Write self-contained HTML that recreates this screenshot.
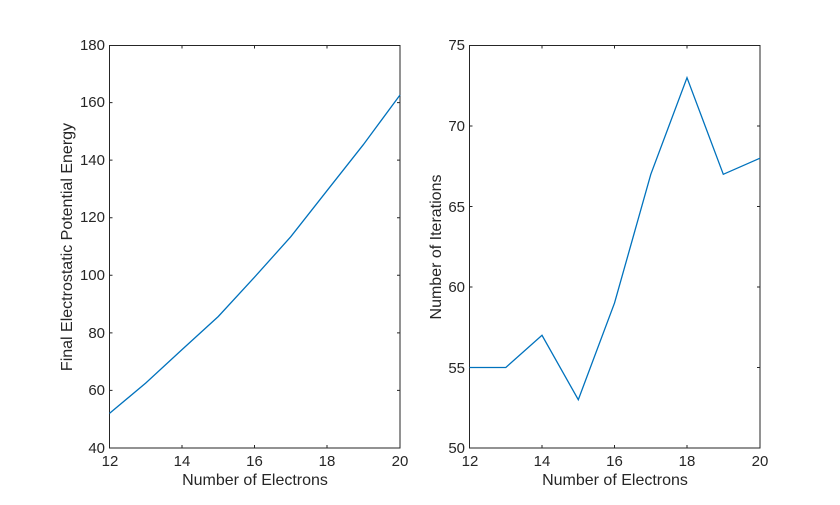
<!DOCTYPE html>
<html><head><meta charset="utf-8"><style>body{margin:0;background:#fff}svg{display:block}text{font-family:"Liberation Sans",Arial,sans-serif;fill:#262626}</style></head>
<body>
<svg width="840" height="505" xmlns="http://www.w3.org/2000/svg">
<rect width="840" height="505" fill="#fff"/>
<g stroke="#262626" stroke-width="1" fill="none">
<rect x="109.5" y="45.5" width="290.5" height="402.5"/>
<path d="M182 448v-3M254.5 448v-3M327 448v-3M182 45.5v3M254.5 45.5v3M327 45.5v3
M109.5 390.4h3M109.5 332.9h3M109.5 275.3h3M109.5 217.7h3M109.5 160.1h3M109.5 102.6h3
M400 390.4h-3M400 332.9h-3M400 275.3h-3M400 217.7h-3M400 160.1h-3M400 102.6h-3"/>
</g>
<polyline fill="none" stroke="#0072BD" stroke-width="1.3" points="109.5,413.4 145.8,383 182,349.6 218.3,316.5 254.5,277.2 290.8,236.7 327,190.7 363.3,144.7 400,95"/>
<g font-size="15" text-anchor="middle">
<text x="110" y="466">12</text><text x="182" y="466">14</text><text x="254.5" y="466">16</text><text x="327" y="466">18</text><text x="400" y="466">20</text>
</g>
<g font-size="15" text-anchor="end">
<text x="105" y="453">40</text><text x="105" y="395">60</text><text x="105" y="338">80</text><text x="105" y="280">100</text><text x="105" y="222">120</text><text x="105" y="165">140</text><text x="105" y="107">160</text><text x="105" y="50">180</text>
</g>
<text x="255" y="485" font-size="16" text-anchor="middle">Number of Electrons</text>
<text transform="translate(72,247) rotate(-90)" font-size="16" text-anchor="middle">Final Electrostatic Potential Energy</text>
<g stroke="#262626" stroke-width="1" fill="none">
<rect x="469.5" y="45.5" width="290.5" height="402.5"/>
<path d="M542 448v-3M614.5 448v-3M687 448v-3M542 45.5v3M614.5 45.5v3M687 45.5v3
M469.5 367.5h3M469.5 287h3M469.5 206.5h3M469.5 126h3
M760 367.5h-3M760 287h-3M760 206.5h-3M760 126h-3"/>
</g>
<polyline fill="none" stroke="#0072BD" stroke-width="1.3" points="469.5,367.5 505.8,367.5 542,335.3 578.3,399.7 614.5,303.1 650.8,174.3 687,77.7 723.3,174.3 760,158.2"/>
<g font-size="15" text-anchor="middle">
<text x="470" y="466">12</text><text x="542" y="466">14</text><text x="614.5" y="466">16</text><text x="687" y="466">18</text><text x="760" y="466">20</text>
</g>
<g font-size="15" text-anchor="end">
<text x="465" y="453">50</text><text x="465" y="373">55</text><text x="465" y="292">60</text><text x="465" y="212">65</text><text x="465" y="131">70</text><text x="465" y="50">75</text>
</g>
<text x="615" y="485" font-size="16" text-anchor="middle">Number of Electrons</text>
<text transform="translate(441,247) rotate(-90)" font-size="16" text-anchor="middle">Number of Iterations</text>
</svg>
</body></html>
